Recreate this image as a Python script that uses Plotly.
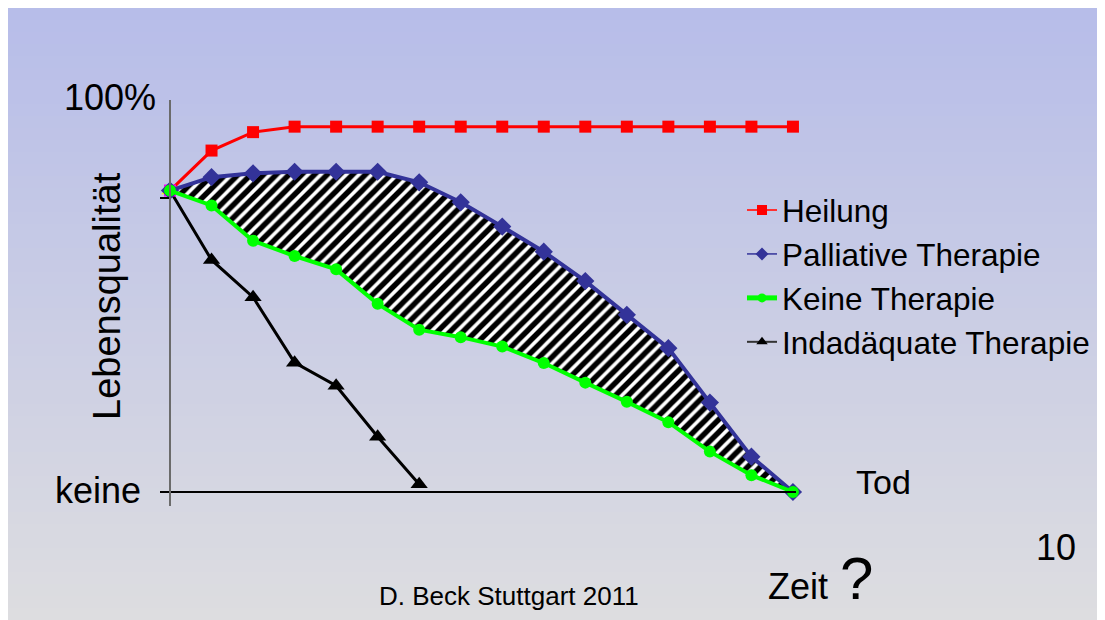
import plotly.graph_objects as go

# ---------------- data ----------------
zeit = list(range(16))                      # time steps (x)
heilung = [76.9, 87.1, 91.8, 93.2, 93.2, 93.2, 93.2, 93.2,
           93.2, 93.2, 93.2, 93.2, 93.2, 93.2, 93.2, 93.2]
palliativ = [76.9, 80.3, 81.3, 81.7, 81.7, 81.7, 79.0, 73.9,
             67.7, 61.3, 53.8, 45.2, 36.7, 22.8, 9.0, 0.0]
keine_th = [76.9, 73.1, 64.1, 60.2, 56.8, 48.0, 41.4, 39.5,
            37.1, 32.9, 27.9, 23.0, 17.8, 10.3, 4.3, 0.0]
zeit_ind = list(range(7))
indadaequat = [76.9, 59.2, 49.7, 33.0, 27.1, 14.1, 2.0]

namen = ["Heilung", "Palliative Therapie", "Keine Therapie", "Indadäquate Therapie"]

# ---------------- layout geometry (page pixels) ----------------
OFF = 8                          # default body margin of the html page
W, H = 1105 - OFF, 620 - OFF     # figure size
X0_PX, DX_PX = 170, 41.53        # x=0 pixel, px per time step
Y0_PX, DY_PX = 492, 3.92         # y=0 pixel, px per percent
XL_PX, XR_PX = 160, 796          # x axis line extent
YT_PX, YB_PX = 100, 506          # y axis line extent

FONT = "Liberation Sans, Arial, sans-serif"


def px_x(px):
    return (px - OFF) / W


def px_y(py):
    return 1 - (py - OFF) / H


fig = go.Figure()

# hatched area between "Keine Therapie" and "Palliative Therapie"
fig.add_trace(go.Scatter(x=zeit, y=keine_th, mode="lines", line=dict(width=0),
                         showlegend=False, hoverinfo="skip"))
fig.add_trace(go.Scatter(x=zeit, y=palliativ, mode="lines", line=dict(width=0),
                         fill="tonexty",
                         fillpattern=dict(shape="/", bgcolor="white", fgcolor="black",
                                          fgopacity=1, size=9, solidity=0.6),
                         showlegend=False, hoverinfo="skip"))

# lines
fig.add_trace(go.Scatter(x=zeit_ind, y=indadaequat, mode="lines+markers", cliponaxis=False,
                         line=dict(color="black", width=3),
                         marker=dict(symbol="triangle-up", size=15,
                                     color=["yellow"] + ["black"] * (len(indadaequat) - 1)),
                         showlegend=False, name=namen[3]))
fig.add_trace(go.Scatter(x=zeit, y=heilung, mode="lines+markers", cliponaxis=False,
                         line=dict(color="#ff0000", width=3),
                         marker=dict(symbol="square", size=12,
                                     color=["#ff00ff"] + ["#ff0000"] * (len(heilung) - 1)),
                         showlegend=False, name=namen[0]))
fig.add_trace(go.Scatter(x=zeit, y=palliativ, mode="lines+markers", cliponaxis=False,
                         line=dict(color="#333399", width=4),
                         marker=dict(symbol="diamond", size=14, color="#333399"),
                         showlegend=False, name=namen[1]))
fig.add_trace(go.Scatter(x=zeit, y=keine_th, mode="lines+markers", cliponaxis=False,
                         line=dict(color="#00ff00", width=4),
                         marker=dict(symbol="circle", size=12, color="#00ff00"),
                         showlegend=False, name=namen[2]))

# legend entries (thin lines like the original legend)
fig.add_trace(go.Scatter(x=[None], y=[None], mode="lines+markers", name=namen[0],
                         line=dict(color="#ff3030", width=2),
                         marker=dict(symbol="square", size=10, color="#ff0000")))
fig.add_trace(go.Scatter(x=[None], y=[None], mode="lines+markers", name=namen[1],
                         line=dict(color="#333399", width=1.5),
                         marker=dict(symbol="diamond", size=10, color="#333399")))
fig.add_trace(go.Scatter(x=[None], y=[None], mode="lines+markers", name=namen[2],
                         line=dict(color="#00ff00", width=5),
                         marker=dict(symbol="circle", size=9, color="#00ff00")))
fig.add_trace(go.Scatter(x=[None], y=[None], mode="lines+markers", name=namen[3],
                         line=dict(color="#333333", width=2),
                         marker=dict(symbol="triangle-up", size=10, color="black")))

# gradient background (slide)
shapes = []
n_bands = 51
c0, c1 = (183, 189, 233), (221, 221, 224)
band = H / n_bands
for i in range(n_bands):
    t = i / (n_bands - 1)
    col = tuple(round(a + (b - a) * t) for a, b in zip(c0, c1))
    y_top = i * band
    y_bot = y_top + band + 1
    shapes.append(dict(type="rect", xref="paper", yref="paper", layer="below",
                       x0=0, x1=1, y0=max(0, 1 - y_bot / H), y1=1 - y_top / H,
                       line=dict(width=0), fillcolor="rgb(%d,%d,%d)" % col))

annotations = [
    dict(text="100%", x=px_x(158), y=px_y(97), xanchor="right", yanchor="middle",
         font=dict(size=36)),
    dict(text="keine", x=px_x(143), y=px_y(490), xanchor="right", yanchor="middle",
         font=dict(size=36)),
    dict(text="Lebensqualität", x=px_x(107), y=px_y(296), xanchor="center",
         yanchor="middle", textangle=-90, font=dict(size=38)),
    dict(text="Tod", x=px_x(854), y=px_y(482), xanchor="left", yanchor="middle",
         font=dict(size=34)),
    dict(text="Zeit", x=px_x(766), y=px_y(586), xanchor="left", yanchor="middle",
         font=dict(size=36)),
    dict(text="?", x=px_x(838), y=px_y(578), xanchor="left", yanchor="middle",
         font=dict(size=60)),
    dict(text="10", x=px_x(1034), y=px_y(547), xanchor="left", yanchor="middle",
         font=dict(size=36)),
    dict(text="D. Beck Stuttgart 2011", x=px_x(509), y=px_y(596), xanchor="center",
         yanchor="middle", font=dict(size=26)),
]
for a in annotations:
    a.update(xref="paper", yref="paper", showarrow=False)
    a["font"].update(family=FONT, color="black")

fig.update_layout(
    width=W, height=H,
    margin=dict(l=0, r=0, t=0, b=0),
    paper_bgcolor="white",
    plot_bgcolor="rgba(0,0,0,0)",
    font=dict(family=FONT, color="black"),
    shapes=shapes,
    annotations=annotations,
    showlegend=True,
    legend=dict(x=px_x(742), y=px_y(183), xanchor="left", yanchor="top",
                traceorder="normal",
                bgcolor="rgba(0,0,0,0)", font=dict(size=31.5, family=FONT, color="black"),
                tracegroupgap=0, itemwidth=30),
    xaxis=dict(domain=[px_x(XL_PX), px_x(XR_PX)],
               range=[(XL_PX - X0_PX) / DX_PX, (XR_PX - X0_PX) / DX_PX],
               showline=True, linecolor="black", linewidth=1.5,
               showgrid=False, zeroline=False, ticks="", showticklabels=False,
               anchor="free", position=px_y(Y0_PX), fixedrange=True),
    yaxis=dict(domain=[px_y(YB_PX), px_y(YT_PX)],
               range=[(Y0_PX - YB_PX) / DY_PX, (Y0_PX - YT_PX) / DY_PX],
               showline=True, linecolor="#6b6b6b", linewidth=2,
               showgrid=False, zeroline=False, ticks="outside", tickvals=[0, 75],
               ticklen=9, tickcolor="black", tickwidth=1.5, showticklabels=False,
               anchor="free", position=px_x(X0_PX), fixedrange=True),
)

fig.write_html("out.html")
